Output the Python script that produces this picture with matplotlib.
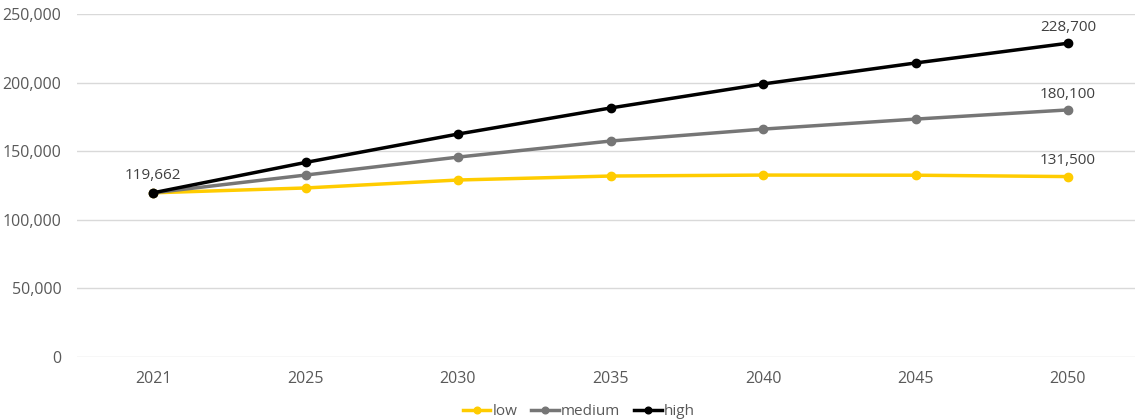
import matplotlib.pyplot as plt
from matplotlib.ticker import FuncFormatter

# data
years = ['2021', '2025', '2030', '2035', '2040', '2045', '2050']
low = [119662, 123200, 129000, 131900, 132600, 132500, 131500]
medium = [119662, 132600, 145700, 157400, 166100, 173400, 180100]
high = [119662, 141800, 162500, 181500, 199000, 214300, 228700]

plt.rcParams['font.family'] = ['Open Sans', 'DejaVu Sans']

fig = plt.figure(figsize=(11.35, 4.2), dpi=100)
ax = fig.add_axes([76.75 / 1135, 1 - 357 / 420, (1144.25 - 76.75) / 1135, (357 - 14) / 420])

x = range(len(years))
series = [('low', low, '#FFCC00'), ('medium', medium, '#767676'), ('high', high, '#000000')]
for name, vals, col in series:
    ax.plot(x, vals, color=col, lw=2.5, marker='o', ms=6, label=name)

ax.set_xlim(-0.5, len(years) - 0.5)
ax.set_ylim(0, 250000)
ax.set_yticks(range(0, 250001, 50000))
ax.yaxis.set_major_formatter(FuncFormatter(lambda v, p: f'{v:,.0f}'))
ax.set_xticks(list(x))
ax.set_xticklabels(years)
ax.grid(axis='y', color='#d9d9d9', lw=1)
ax.set_axisbelow(True)
for s in ax.spines.values():
    s.set_visible(False)
ax.tick_params(length=0, labelsize=11.5, colors='#595959', pad=10)
ax.tick_params(axis='y', pad=11)

# data labels: start value and end values
ax.annotate(f'{high[0]:,}', (0, high[0]), xytext=(0, 7), textcoords='offset points',
            ha='center', va='bottom', fontsize=11, color='#404040')
for name, vals, col in series:
    ax.annotate(f'{vals[-1]:,}', (len(years) - 1, vals[-1]), xytext=(0, 6),
                textcoords='offset points', ha='center', va='bottom', fontsize=11, color='#404040')

fig.legend(loc='lower center', bbox_to_anchor=(0.51, -0.03), ncol=3, frameon=False,
           fontsize=11, handlelength=1.8, handletextpad=0.15, columnspacing=0.9,
           labelcolor='#595959', markerscale=0.8)

fig.savefig('out.png', dpi=100)
